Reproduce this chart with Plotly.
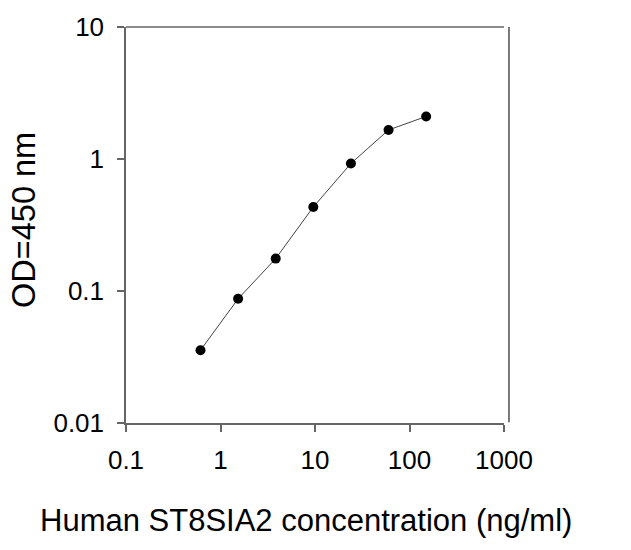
import plotly.graph_objects as go

concentration = [0.6144, 1.536, 3.84, 9.6, 24, 60, 150]
od450 = [0.0356, 0.0873, 0.176, 0.433, 0.925, 1.66, 2.10]

x_ticks = [0.1, 1, 10, 100, 1000]
x_ticklabels = ["0.1", "1", "10", "100", "1000"]
y_ticks = [0.01, 0.1, 1, 10]
y_ticklabels = ["0.01", "0.1", "1", "10"]

x_title = "Human ST8SIA2 concentration (ng/ml)"
y_title = "OD=450 nm"

FONT = "Liberation Sans, Arial, sans-serif"
AXIS_COLOR = "#666666"

fig = go.Figure()
fig.add_trace(go.Scatter(
    x=concentration, y=od450, mode="lines+markers",
    line=dict(color="#444444", width=1),
    marker=dict(color="black", size=10),
    showlegend=False,
))

fig.update_layout(
    width=631, height=550,
    margin=dict(l=126, r=127, t=22, b=127),
    paper_bgcolor="white", plot_bgcolor="white",
    font=dict(family=FONT, color="black"),
    xaxis=dict(
        type="log", range=[-1, 3],
        tickvals=x_ticks, ticktext=x_ticklabels,
        ticks="outside", ticklen=7, tickwidth=1.5, tickcolor=AXIS_COLOR,
        showline=True, linecolor=AXIS_COLOR, linewidth=1.5,
        showgrid=False, zeroline=False,
        tickfont=dict(size=26, family=FONT, color="black"),
        ticklabelstandoff=6,
    ),
    yaxis=dict(
        type="log", range=[-2, 1],
        tickvals=y_ticks, ticktext=y_ticklabels,
        ticks="outside", ticklen=7, tickwidth=1.5, tickcolor=AXIS_COLOR,
        showline=True, linecolor=AXIS_COLOR, linewidth=1.5,
        showgrid=False, zeroline=False,
        tickfont=dict(size=26, family=FONT, color="black"),
        ticklabelstandoff=8,
    ),
    shapes=[
        dict(type="line", xref="paper", yref="paper", x0=0, x1=1, y0=1, y1=1,
             line=dict(color=AXIS_COLOR, width=1.5)),
        dict(type="line", xref="paper", yref="paper", x0=1.0132, x1=1.0132, y0=0.002, y1=1,
             line=dict(color="#222222", width=1.2)),
    ],
    annotations=[
        dict(text=x_title, xref="paper", yref="paper", x=0.4775, y=-0.247,
             xanchor="center", yanchor="middle", showarrow=False,
             font=dict(size=31, family=FONT, color="black")),
        dict(text=y_title, xref="paper", yref="paper", x=-0.27, y=0.5125,
             xanchor="center", yanchor="middle", showarrow=False, textangle=-90,
             font=dict(size=32.5, family=FONT, color="black")),
    ],
)

fig.write_html("out.html", config={"displayModeBar": False},
               post_script="document.body.style.margin='0px';")
